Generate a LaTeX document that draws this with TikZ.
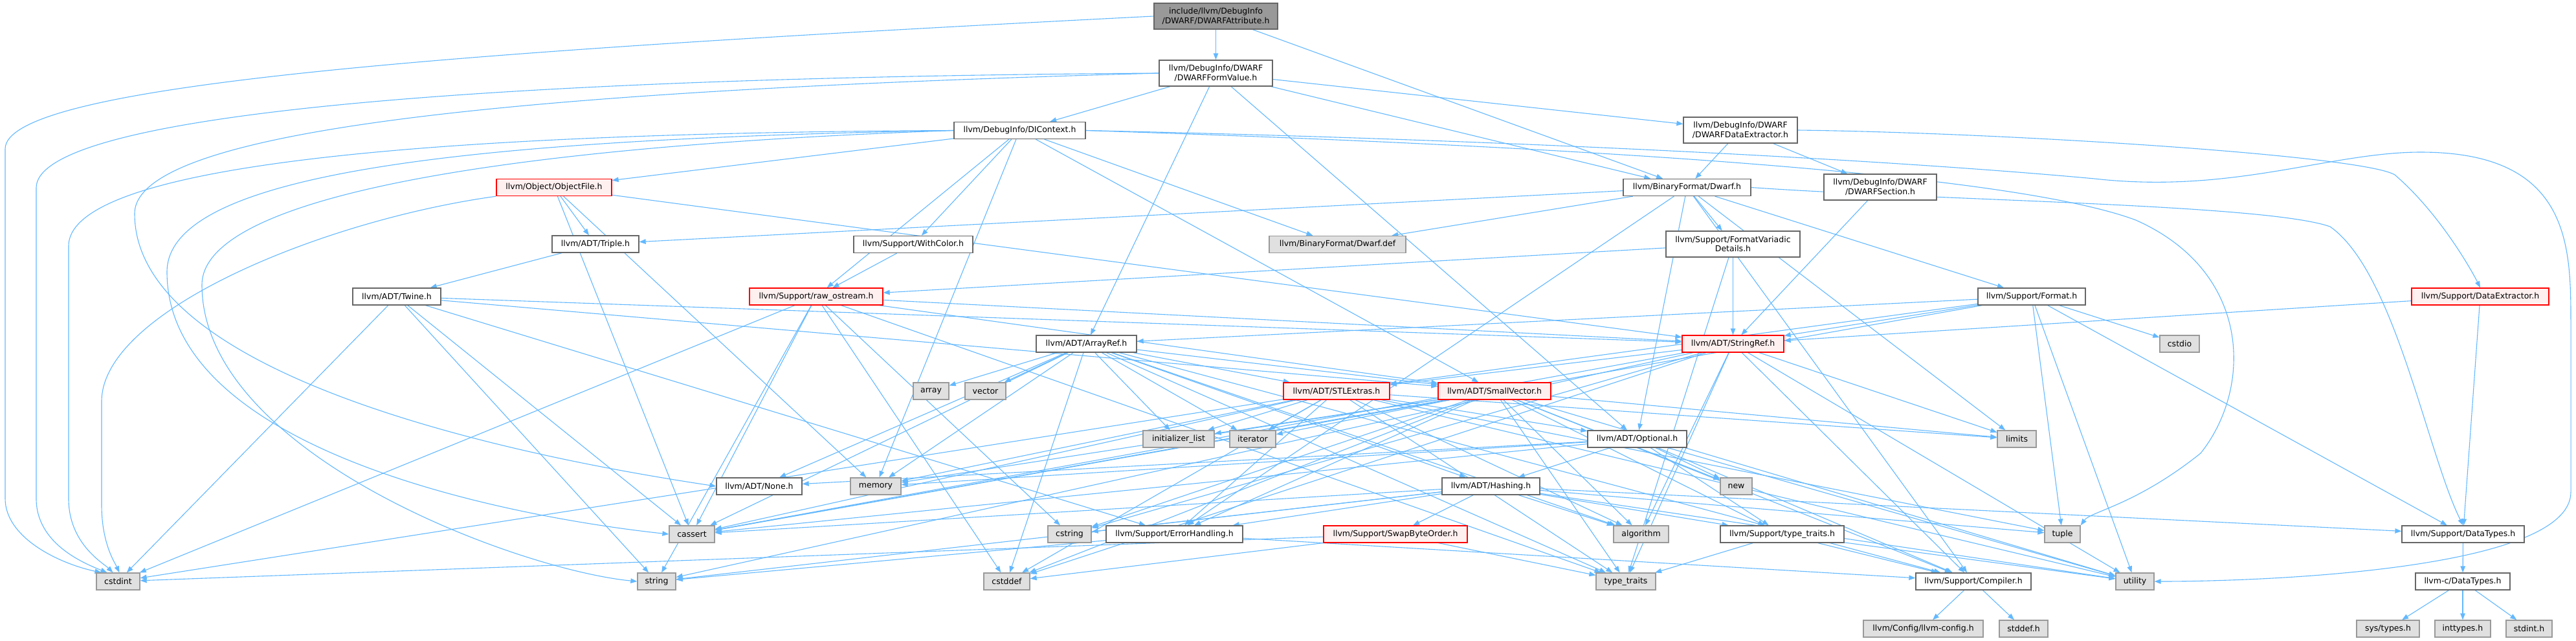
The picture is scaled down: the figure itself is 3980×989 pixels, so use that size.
\documentclass[tikz,border=0pt]{standalone}
\usepackage{fontspec}
\setmainfont{DejaVu Sans}
\usetikzlibrary{arrows.meta}
\definecolor{edgeblue}{HTML}{63B8FF}
\definecolor{gborder}{HTML}{999999}
\definecolor{gfill}{HTML}{E0E0E0}
\definecolor{wborder}{HTML}{666666}
\definecolor{rfill}{HTML}{FFF0F0}
\definecolor{rootfill}{HTML}{999999}
\pgfdeclarelayer{background}
\pgfsetlayers{background,main}
\tikzset{
  base/.style={draw, line width=1.3pt, inner sep=2pt, align=center,
    font=\fontsize{12.5}{14.5}\selectfont, minimum height=26pt},
  nw/.style={base, fill=white, draw=wborder},
  ng/.style={base, fill=gfill, draw=gborder},
  nr/.style={base, fill=rfill, draw=red},
  nroot/.style={base, fill=rootfill, draw=wborder},
  e/.style={draw=edgeblue, line width=1.1pt, -{Triangle[length=10pt,width=7.5pt]}}
}
\begin{document}
\begin{tikzpicture}[x=1pt,y=-1pt]
\useasboundingbox (0,0) rectangle (3980,989);
% row 0-5
\node[nroot, minimum width=191pt, minimum height=40pt] (attr) at (1878.5,25) {include/llvm/DebugInfo\\/DWARF/DWARFAttribute.h};
\node[nw, minimum width=175pt, minimum height=40pt] (formval) at (1878.5,113) {llvm/DebugInfo/DWARF\\/DWARFFormValue.h};
\node[nw, minimum width=203pt] (dicontext) at (1575.5,201.5) {llvm/DebugInfo/DIContext.h};
\node[nw, minimum width=176pt, minimum height=40pt] (dde) at (2689,201) {llvm/DebugInfo/DWARF\\/DWARFDataExtractor.h};
\node[nr, minimum width=178pt] (objfile) at (856,289.5) {llvm/Object/ObjectFile.h};
\node[nw, minimum width=197pt] (dwarfh) at (2606.5,289.5) {llvm/BinaryFormat/Dwarf.h};
\node[nw, minimum width=174pt, minimum height=40pt] (dsection) at (2905,289) {llvm/DebugInfo/DWARF\\/DWARFSection.h};
\node[nw, minimum width=134pt] (triple) at (920,377) {llvm/ADT/Triple.h};
\node[nw, minimum width=184pt] (withcolor) at (1411,377.5) {llvm/Support/WithColor.h};
\node[ng, minimum width=211pt] (dwarfdef) at (2066.5,377.5) {llvm/BinaryFormat/Dwarf.def};
\node[nw, minimum width=207pt, minimum height=40pt] (fvd) at (2677.5,377) {llvm/Support/FormatVariadic\\Details.h};
\node[nw, minimum width=136pt] (twine) at (613,458) {llvm/ADT/Twine.h};
\node[nr, minimum width=206pt] (rawos) at (1261,458) {llvm/Support/raw\_ostream.h};
\node[nw, minimum width=166pt] (format) at (3139,458) {llvm/Support/Format.h};
\node[nr, minimum width=212pt] (dataext) at (3832,458) {llvm/Support/DataExtractor.h};
% row 6-9
\node[nw, minimum width=155pt] (arrayref) at (1678.5,531) {llvm/ADT/ArrayRef.h};
\node[nr, minimum width=157pt] (stringref) at (2677.5,531) {llvm/ADT/StringRef.h};
\node[ng, minimum width=61pt] (cstdio) at (3367.5,531) {cstdio};
\node[ng, minimum width=55pt] (array) at (1438.5,604) {array};
\node[ng, minimum width=63pt] (vector) at (1522.5,604) {vector};
\node[nr, minimum width=164pt] (stlextras) at (2065,604) {llvm/ADT/STLExtras.h};
\node[nr, minimum width=174pt] (smallvec) at (2309,604) {llvm/ADT/SmallVector.h};
\node[ng, minimum width=110pt] (initlist) at (1821,678) {initializer\_list};
\node[ng, minimum width=71pt] (iterator) at (1935.5,678) {iterator};
\node[nw, minimum width=153pt] (optional) at (2529.5,678) {llvm/ADT/Optional.h};
\node[ng, minimum width=60pt] (limits) at (3116,678) {limits};
\node[nw, minimum width=132pt] (none) at (1173,751) {llvm/ADT/None.h};
\node[ng, minimum width=78pt] (memory) at (1353,751) {memory};
\node[nw, minimum width=151pt] (hashing) at (2303.5,751) {llvm/ADT/Hashing.h};
\node[ng, minimum width=49pt] (new) at (2682.5,751) {new};
% row 10-12
\node[ng, minimum width=70pt] (cassert) at (1069,825) {cassert};
\node[ng, minimum width=67pt] (cstring) at (1652.5,825) {cstring};
\node[nw, minimum width=211pt] (errh) at (1814.5,825) {llvm/Support/ErrorHandling.h};
\node[nr, minimum width=222pt] (swap) at (2156,825) {llvm/Support/SwapByteOrder.h};
\node[ng, minimum width=85pt] (algorithm) at (2535.5,825) {algorithm};
\node[nw, minimum width=191pt] (stypetraits) at (2753.5,825) {llvm/Support/type\_traits.h};
\node[ng, minimum width=55pt] (tuple) at (3186.5,825) {tuple};
\node[nw, minimum width=189pt] (sdatatypes) at (3805.5,825) {llvm/Support/DataTypes.h};
\node[ng, minimum width=67pt] (cstdint) at (182.5,898) {cstdint};
\node[ng, minimum width=59pt] (string) at (1014.5,898) {string};
\node[ng, minimum width=71pt] (cstddef) at (1555.5,898) {cstddef};
\node[ng, minimum width=92pt] (typetraits) at (2512,898) {type\_traits};
\node[nw, minimum width=178pt] (compiler) at (3049,898) {llvm/Support/Compiler.h};
\node[ng, minimum width=59pt] (utility) at (3298.5,898) {utility};
\node[nw, minimum width=146pt] (cdatatypes) at (3805,898) {llvm-c/DataTypes.h};
\node[ng, minimum width=185pt] (llvmconfig) at (2971.5,971) {llvm/Config/llvm-config.h};
\node[ng, minimum width=75pt] (stddef) at (3126.5,971) {stddef.h};
\node[ng, minimum width=97pt] (systypes) at (3689.5,971) {sys/types.h};
\node[ng, minimum width=86pt] (inttypes) at (3805,971) {inttypes.h};
\node[ng, minimum width=71pt] (stdint) at (3907.5,971) {stdint.h};

\begin{pgfonlayer}{background}
\foreach \a/\b in {
 attr/formval, attr/dwarfh,
 formval/arrayref, formval/optional, formval/dwarfh, formval/dicontext, formval/dde,
 dicontext/smallvec, dicontext/objfile, dicontext/withcolor, dicontext/rawos, dicontext/memory, dicontext/dwarfdef,
 dde/dwarfh, dde/dsection,
 objfile/triple, objfile/stringref, objfile/memory, objfile/cassert,
 triple/twine, withcolor/rawos,
 twine/smallvec, twine/stringref, twine/errh, twine/cassert, twine/cstdint, twine/string,
 dwarfh/triple, dwarfh/dwarfdef, dwarfh/errh, dwarfh/optional, dwarfh/fvd, dwarfh/format, dwarfh/compiler, dwarfh/limits,
 fvd/stringref, fvd/rawos, fvd/typetraits,
 dsection/stringref, dataext/stringref, dataext/sdatatypes,
 rawos/smallvec, rawos/stringref, rawos/cassert, rawos/cstddef, rawos/cstdint, rawos/cstring, rawos/string, rawos/typetraits,
 format/arrayref, format/stlextras, format/stringref, format/sdatatypes, format/cassert, format/cstdio, format/tuple, format/utility,
 arrayref/hashing, arrayref/none, arrayref/smallvec, arrayref/stlextras, arrayref/compiler, arrayref/algorithm, arrayref/array,
 arrayref/cassert, arrayref/cstddef, arrayref/initlist, arrayref/iterator, arrayref/memory, arrayref/typetraits, arrayref/vector,
 stringref/stlextras, stringref/compiler, stringref/algorithm, stringref/cassert, stringref/cstddef, stringref/cstring,
 stringref/limits, stringref/string, stringref/typetraits, stringref/utility,
 stlextras/optional, stlextras/errh, stlextras/algorithm, stlextras/cassert, stlextras/cstddef, stlextras/cstdint,
 stlextras/initlist, stlextras/iterator, stlextras/limits, stlextras/memory, stlextras/tuple, stlextras/typetraits, stlextras/utility,
 smallvec/compiler, smallvec/errh, smallvec/stypetraits, smallvec/algorithm, smallvec/cassert, smallvec/cstddef, smallvec/cstring,
 smallvec/initlist, smallvec/iterator, smallvec/limits, smallvec/memory, smallvec/new, smallvec/typetraits, smallvec/utility,
 optional/hashing, optional/none, optional/compiler, optional/stypetraits, optional/cassert, optional/memory, optional/new, optional/utility,
 hashing/sdatatypes, hashing/errh, hashing/swap, hashing/stypetraits, hashing/algorithm, hashing/cassert, hashing/cstring,
 hashing/string, hashing/tuple, hashing/utility,
 errh/compiler, errh/string,
 swap/cstddef, swap/cstdint, swap/typetraits,
 stypetraits/compiler, stypetraits/typetraits, stypetraits/utility,
 compiler/llvmconfig, compiler/stddef,
 sdatatypes/cdatatypes,
 cdatatypes/systypes, cdatatypes/inttypes, cdatatypes/stdint}
 \draw[e] (\a) -- (\b);
% long routed edges
\draw[e] (attr.west) .. controls (700,80) and (8,130) .. (8,230) -- (8,770) .. controls (8,830) and (90,870) .. ([xshift=-26pt]cstdint.north);
\draw[e] (formval.west) .. controls (700,120) and (56,180) .. (56,290) -- (56,770) .. controls (56,840) and (130,870) .. ([xshift=-17pt]cstdint.north);
\draw[e] (dicontext.west) .. controls (700,205) and (106,250) .. (106,380) -- (106,770) .. controls (106,840) and (160,870) .. ([xshift=-8pt]cstdint.north);
\draw[e] (objfile.south west) .. controls (500,340) and (157,480) .. (157,620) -- (157,780) .. controls (157,840) and (178,870) .. ([xshift=2pt]cstdint.north);
\draw[e] (formval.west) .. controls (800,140) and (208,200) .. (208,330) .. controls (208,560) and (700,690) .. (none.west);
\draw[e] (dicontext.west) .. controls (700,215) and (258,270) .. (258,420) .. controls (258,700) and (800,800) .. (cassert.west);
\draw[e] (dicontext.west) .. controls (800,225) and (312,300) .. (312,440) .. controls (312,700) and (800,880) .. (string.west);
\draw[e] (dicontext.east) .. controls (2300,215) and (2900,245) .. (3236,276) .. controls (3450,300) and (3600,235) .. (3740,235) .. controls (3972,235) and (3972,380) .. (3972,500) -- (3972,760) .. controls (3972,880) and (3500,898) .. (utility.east);
\draw[e] (dicontext.east) .. controls (2400,225) and (3100,265) .. (3300,340) .. controls (3480,420) and (3480,600) .. (3400,700) .. controls (3300,780) and (3230,790) .. (tuple.north east);
\draw[e] (dde.east) .. controls (3100,205) and (3650,240) .. (3700,270) .. controls (3770,330) and (3820,420) .. (dataext.north);
\draw[e] (dwarfh.east) .. controls (3000,310) and (3500,315) .. (3600,350) .. controls (3700,420) and (3750,700) .. (sdatatypes.north);
\end{pgfonlayer}
\end{tikzpicture}
\end{document}
